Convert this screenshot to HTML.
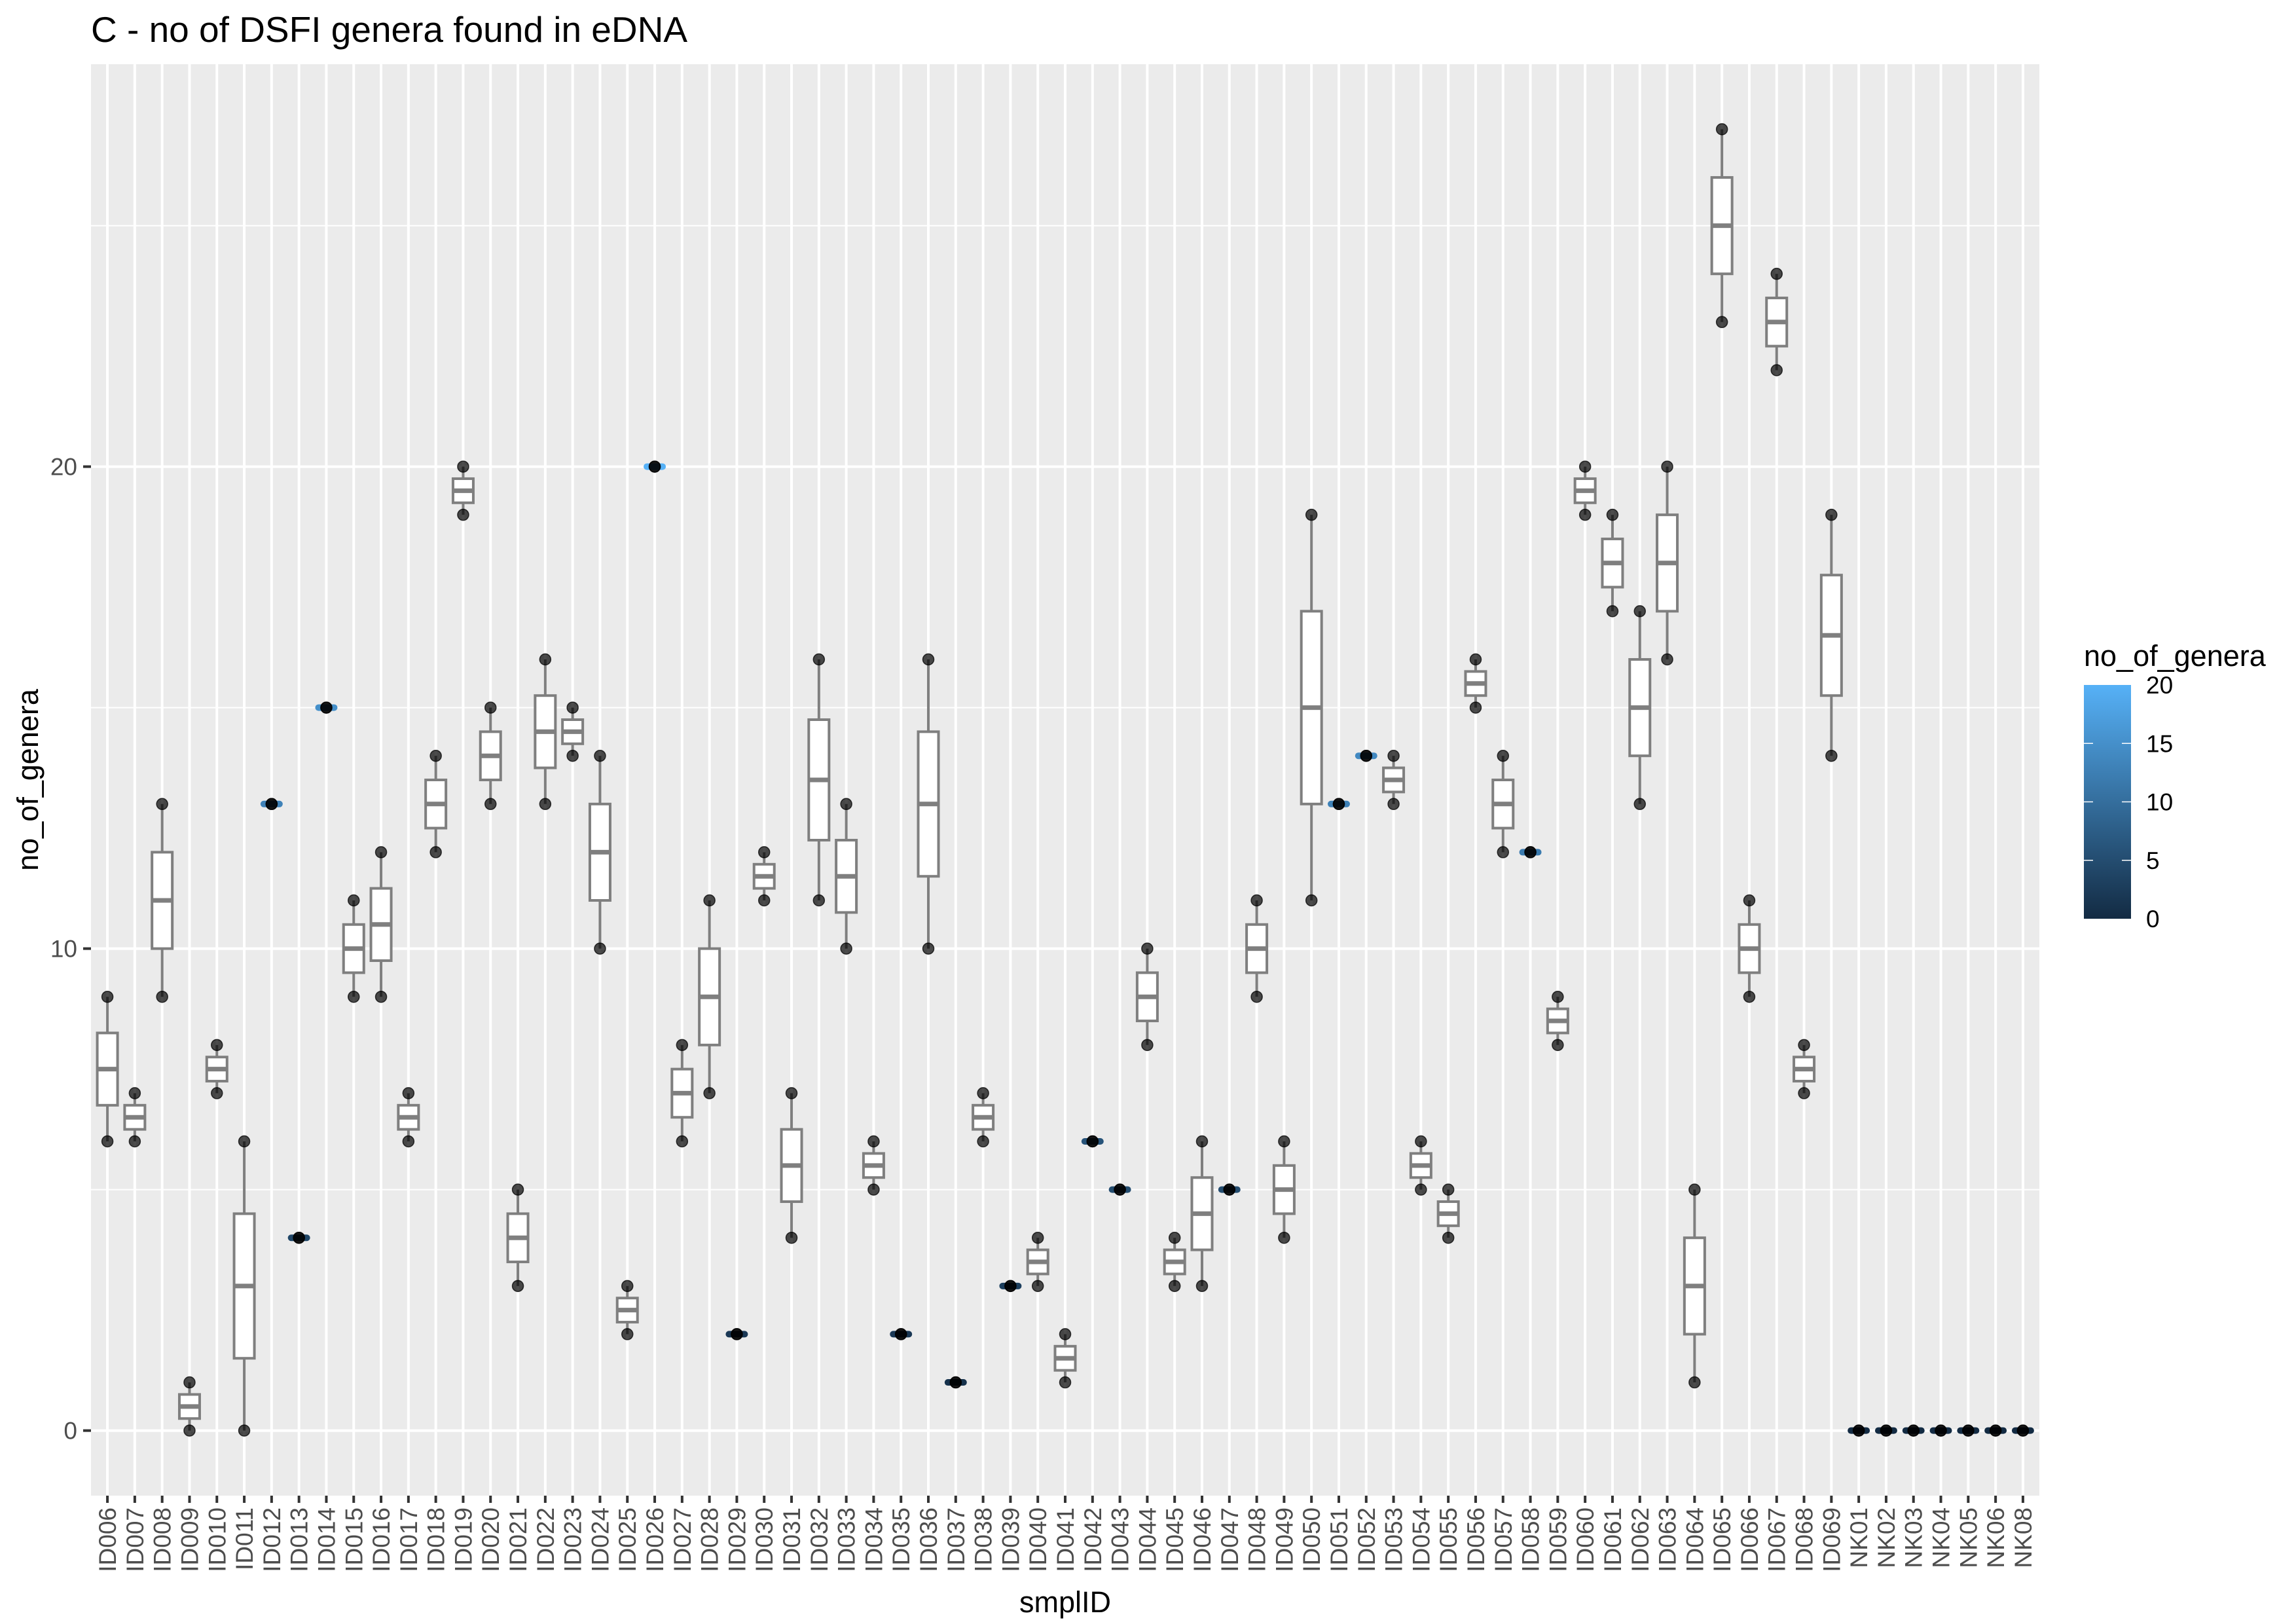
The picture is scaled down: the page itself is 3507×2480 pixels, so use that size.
<!DOCTYPE html>
<html><head><meta charset="utf-8"><style>
html,body{margin:0;padding:0;background:#fff;}
svg{display:block;font-family:"Liberation Sans",sans-serif;}
</style></head><body>
<svg id="chart" width="3507" height="2480" viewBox="0 0 3507 2480" xmlns="http://www.w3.org/2000/svg">
<rect width="3507" height="2480" fill="#fff"/>
<text x="139" y="64" font-size="55" fill="#000">C - no of DSFI genera found in eDNA</text>
<rect x="139" y="98" width="2976" height="2186" fill="#EBEBEB"/>
<g id="grid"></g>
<g id="marks"></g>
<g id="axes"></g>
<text transform="translate(58,1191) rotate(-90)" text-anchor="middle" font-size="45" fill="#000">no_of_genera</text>
<text x="1627" y="2462" text-anchor="middle" font-size="45" fill="#000">smplID</text>
<g>
<defs><linearGradient id="cg" x1="0" y1="1" x2="0" y2="0"><stop offset="0" stop-color="#132B43"/><stop offset="1" stop-color="#56B1F7"/></linearGradient></defs>
<text x="3183" y="1017" font-size="45" fill="#000">no_of_genera</text>
<rect x="3183" y="1046" width="72" height="357" fill="url(#cg)"/>
<g id="legticks"></g>
</g>
</svg>
<script>
const categories = ["ID006","ID007","ID008","ID009","ID010","ID011","ID012","ID013","ID014","ID015","ID016","ID017","ID018","ID019","ID020","ID021","ID022","ID023","ID024","ID025","ID026","ID027","ID028","ID029","ID030","ID031","ID032","ID033","ID034","ID035","ID036","ID037","ID038","ID039","ID040","ID041","ID042","ID043","ID044","ID045","ID046","ID047","ID048","ID049","ID050","ID051","ID052","ID053","ID054","ID055","ID056","ID057","ID058","ID059","ID060","ID061","ID062","ID063","ID064","ID065","ID066","ID067","ID068","ID069","NK01","NK02","NK03","NK04","NK05","NK06","NK08"];
const lowValues = [6,6,9,0,7,0,13,4,15,9,9,6,12,19,13,3,13,14,10,2,20,6,7,2,11,4,11,10,5,2,10,1,6,3,3,1,6,5,8,3,3,5,9,4,11,13,14,13,5,4,15,12,12,8,19,17,13,16,1,23,9,22,7,14,0,0,0,0,0,0,0];
const highValues = [9,7,13,1,8,6,13,4,15,11,12,7,14,20,15,5,16,15,14,3,20,8,11,2,12,7,16,13,6,2,16,1,7,3,4,2,6,5,10,4,6,5,11,6,19,13,14,14,6,5,16,14,12,9,20,19,17,20,5,27,11,24,8,19,0,0,0,0,0,0,0];
const yTicks = [0,10,20];
const yMinor = [5,15,25];
const legendTicks = [0,5,10,15,20];

const NS="http://www.w3.org/2000/svg";
const PL=139, PR=3115, PT=98, PB=2284;
const yMin=-1.35, yMax=28.35;
function y(v){return PB-(v-yMin)/(yMax-yMin)*(PB-PT);}
const step=(PR-PL)/(categories.length-1+1.2);
function x(i){return PL+step*(0.6+i);}
function mk(tag,attrs,parent){const e=document.createElementNS(NS,tag);for(const k in attrs)e.setAttribute(k,attrs[k]);parent.appendChild(e);return e;}
function lerpColor(v){const a=[0x13,0x2B,0x43],b=[0x56,0xB1,0xF7];const t=Math.max(0,Math.min(1,v/20));return "rgb("+a.map((c,i)=>Math.round(c+(b[i]-c)*t)).join(",")+")";}

const grid=document.getElementById('grid'), marks=document.getElementById('marks'), axes=document.getElementById('axes');
yMinor.forEach(v=>{const l=mk('line',{x1:PL,x2:PR,y1:y(v),y2:y(v),stroke:'#fff','stroke-width':2},grid);

});
yTicks.forEach(v=>{const l=mk('line',{x1:PL,x2:PR,y1:y(v),y2:y(v),stroke:'#fff','stroke-width':4},grid);


const t=mk('line',{x1:127,x2:139,y1:y(v),y2:y(v),stroke:'#333','stroke-width':4},axes);


const tx=mk('text',{x:118,y:y(v)+13,'text-anchor':'end','font-size':37,fill:'#4D4D4D'},axes);
tx.textContent=v;

});
categories.forEach((c,i)=>{const X=x(i);
const g=mk('line',{x1:X,x2:X,y1:PT,y2:PB,stroke:'#fff','stroke-width':4},grid);


const t=mk('line',{x1:X,x2:X,y1:PB,y2:PB+11,stroke:'#333','stroke-width':4},axes);


const tx=mk('text',{transform:'translate('+(X+13)+','+(PB+18)+') rotate(-90)','text-anchor':'end','font-size':37,fill:'#4D4D4D'},axes);
tx.textContent=c;


const lo=lowValues[i], hi=highValues[i];
const q1=lo+0.25*(hi-lo), med=(lo+hi)/2, q3=lo+0.75*(hi-lo);
const bw=31, g2=mk('g',{},marks);


if(hi===lo){
 mk('rect',{x:X-17,y:y(lo)-5,width:34,height:10,rx:5,fill:lerpColor(lo)},g2);
}
mk('line',{x1:X,x2:X,y1:y(hi),y2:y(q3),stroke:'#7F7F7F','stroke-width':4},g2);
mk('line',{x1:X,x2:X,y1:y(q1),y2:y(lo),stroke:'#7F7F7F','stroke-width':4},g2);
if(hi>lo){
 mk('rect',{x:X-bw/2,y:y(q3),width:bw,height:y(q1)-y(q3),fill:'#fff',stroke:'#7F7F7F','stroke-width':4},g2);
 mk('line',{x1:X-bw/2,x2:X+bw/2,y1:y(med),y2:y(med),stroke:'#7F7F7F','stroke-width':7},g2);
}
[lo,hi].forEach(v=>{const p=mk('circle',{cx:X,cy:y(v),r:8.5,fill:'rgba(0,0,0,0.7)',stroke:'rgba(0,0,0,0.75)','stroke-width':1.5},g2);

});
});
const lt=document.getElementById('legticks');
legendTicks.forEach(v=>{const Y=1403-v/20*357;
if(v>0&&v<20){mk('line',{x1:3183,x2:3197,y1:Y,y2:Y,stroke:'#fff','stroke-width':1.5},lt);mk('line',{x1:3241,x2:3255,y1:Y,y2:Y,stroke:'#fff','stroke-width':1.5},lt);}
const t=mk('text',{x:3278,y:Y+13,'font-size':37,fill:'#000'},lt);
t.textContent=v;

});
</script>
</body></html>
